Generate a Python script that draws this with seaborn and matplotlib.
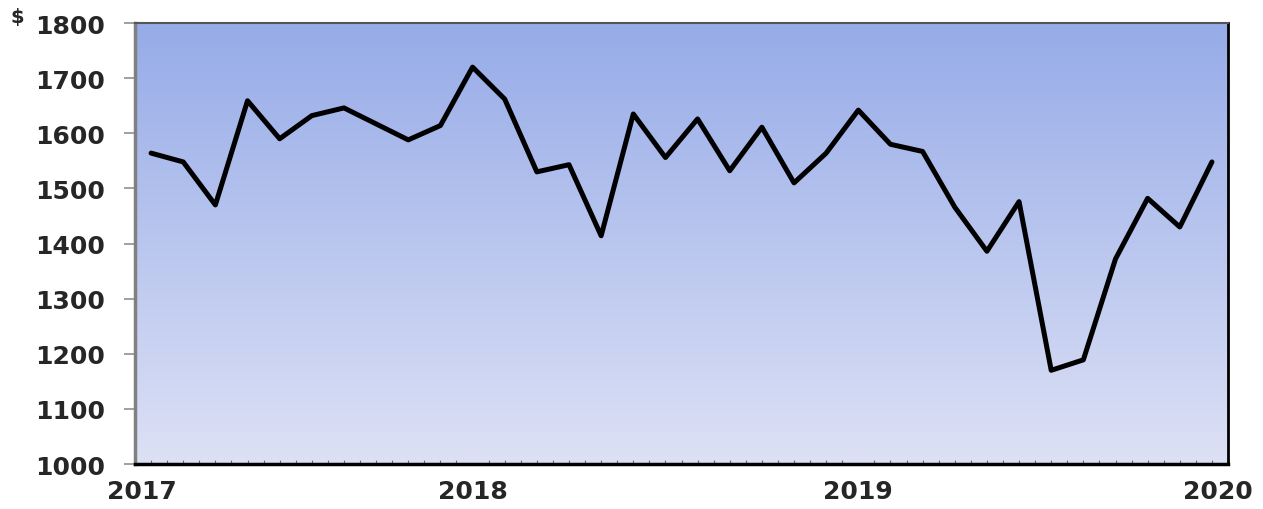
import numpy as np
import pandas as pd
import seaborn as sns
import matplotlib.pyplot as plt
from matplotlib.colors import LinearSegmentedColormap
from matplotlib.ticker import MultipleLocator

# monthly values
prices = [1564, 1548, 1470, 1659, 1590, 1632, 1646, 1617, 1588, 1614,
          1720, 1662, 1530, 1543, 1414, 1635, 1556, 1626, 1532, 1611,
          1510, 1564, 1642, 1580, 1567, 1466, 1386, 1476, 1170, 1189,
          1372, 1482, 1430, 1548]
year_labels = ['2017', '2018', '2019', '2020']
y_ticks = [1000, 1100, 1200, 1300, 1400, 1500, 1600, 1700, 1800]

df = pd.DataFrame({'mes': np.arange(len(prices)), 'preco': prices})

sns.set_style('white')
plt.rcParams['font.family'] = ['DejaVu Sans']
plt.rcParams['font.weight'] = 'bold'

fig = plt.figure(figsize=(12.63, 5.10), dpi=100)
ax = fig.add_axes([0.1069, 0.0882, 0.8654, 0.8647])

# fundo em degrade
grad = LinearSegmentedColormap.from_list('fundo', ['#dde1f5', '#96abe8'])
ax.imshow(np.linspace(0, 1, 256).reshape(-1, 1), cmap=grad, origin='lower',
          extent=[0, 1, 0, 1], transform=ax.transAxes, aspect='auto', zorder=0)

sns.lineplot(data=df, x='mes', y='preco', color='black', linewidth=3.6,
             ax=ax, zorder=3)

n = len(prices)
ax.set_xlim(-0.5, n - 0.5)
ax.set_ylim(y_ticks[0], y_ticks[-1])
ax.set_yticks(y_ticks)
ax.set_xticks([-0.3, 10, 22, n - 0.8])
ax.set_xticklabels(year_labels)
ax.xaxis.set_minor_locator(MultipleLocator(0.5))
ax.set_xlabel('')
ax.set_ylabel('')

ax.tick_params(axis='y', which='major', direction='out', length=8, width=1.2,
               color='#909090', pad=13.5, left=True, labelsize=18)
ax.tick_params(axis='x', which='major', length=0, pad=11, labelsize=18)
ax.tick_params(axis='x', which='minor', direction='in', length=3, width=0.8,
               color='#707070', bottom=True)

ax.spines['left'].set_color('#808080')
ax.spines['left'].set_linewidth(2.5)
ax.spines['bottom'].set_color('black')
ax.spines['bottom'].set_linewidth(2.5)
ax.spines['right'].set_color('black')
ax.spines['right'].set_linewidth(2)
ax.spines['top'].set_color('#555555')
ax.spines['top'].set_linewidth(1.5)

fig.text(0.0135, 0.966, '$', fontsize=14, fontweight='bold', ha='center', va='center')

fig.savefig('out.png', dpi=100)
